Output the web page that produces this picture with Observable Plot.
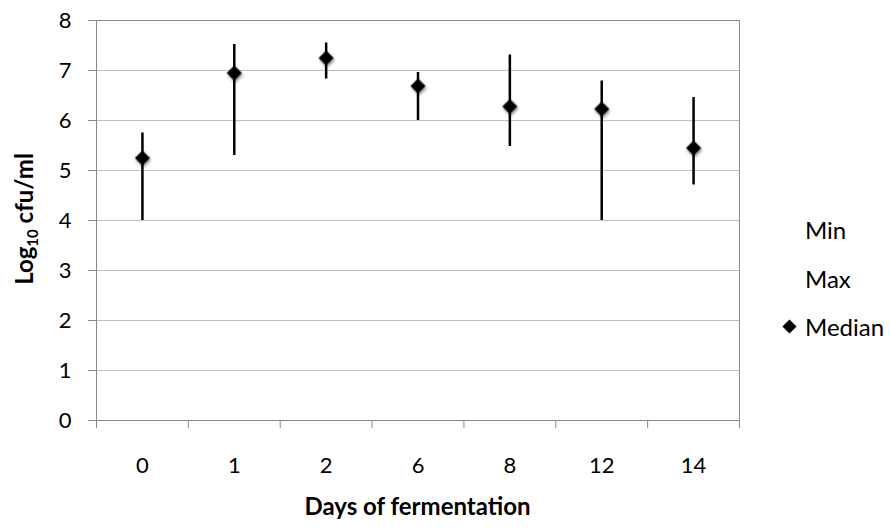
<!DOCTYPE html>
<html><head><meta charset="utf-8">
<script src="https://cdn.jsdelivr.net/npm/d3@7"></script>
<script src="https://cdn.jsdelivr.net/npm/@observablehq/plot@0.6"></script>
<style>
body{margin:0;background:#fff;}
#wrap{position:relative;width:890px;height:531px;font-family:Lato,sans-serif;}
#wrap svg g[aria-label="dot"]{filter:drop-shadow(1px 2px 1.5px rgba(0,0,0,0.45));}
</style></head><body><div id="wrap"></div>
<script>
const days = ["0","1","2","6","8","12","14"];
const minVals = [4.0, 5.3, 6.83, 6.0, 5.48, 4.0, 4.71];
const maxVals = [5.75, 7.52, 7.55, 6.96, 7.31, 6.79, 6.46];
const medianVals = [5.25, 6.95, 7.25, 6.69, 6.28, 6.23, 5.45];
const yTicks = [0,1,2,3,4,5,6,7,8];
const legendLabels = ["Min","Max","Median"];

const data = days.map((d,i)=>({day:d, idx:i+0.5, min:minVals[i], max:maxVals[i], median:medianVals[i]}));
const boundaries = d3.range(days.length+1);

const W = 890, H = 531, mL = 96, mR = 151, mT = 20, mB = 111;

const plot = Plot.plot({
  width: W, height: H,
  marginLeft: mL, marginRight: mR, marginTop: mT, marginBottom: mB,
  x: {domain:[0, days.length]},
  y: {domain:[0, 8]},
  style: {fontFamily:"Lato, sans-serif", fontSize:"22px", color:"#000", background:"#fff"},
  marks: [
    Plot.gridY(yTicks.slice(1, -1), {stroke:"#bfbfbf", strokeOpacity:1, strokeWidth:1}),
    Plot.frame({stroke:"#878787", strokeWidth:1}),
    Plot.axisY(yTicks, {tickSize:8, tickPadding:17, stroke:"#878787", label:null, tickFormat:d=>String(d)}),
    Plot.axisX(boundaries, {tickSize:8, tickFormat:()=>"", stroke:"#878787", label:null}),
    Plot.axisX(data.map(d=>d.idx), {tickSize:0, tickPadding:37, label:null, tickFormat:d=>days[Math.floor(d)]}),
    Plot.ruleX(data, {x:"idx", y1:"min", y2:"max", stroke:"#000", strokeWidth:2.5}),
    Plot.dot(data, {x:"idx", y:"median", symbol:"square", r:6, rotate:45, fill:"#000", stroke:"none"})
  ]
});
document.getElementById("wrap").appendChild(plot);

const svg = d3.select(plot);
// Y title with subscript
const yt = svg.append("text")
  .attr("transform", `translate(33,${mT + (H - mT - mB)/2 - 1}) rotate(-90)`)
  .attr("text-anchor","middle").attr("font-weight","bold").attr("font-size","24px").attr("fill","#000");
yt.append("tspan").text("Log");
yt.append("tspan").attr("font-size","15px").attr("dy",5).text("10");
yt.append("tspan").attr("dy",-5).text(" cfu/ml");
// X title
svg.append("text")
  .attr("x", mL + (W - mL - mR)/2).attr("y", 515)
  .attr("text-anchor","middle").attr("font-weight","bold").attr("font-size","24px").attr("fill","#000")
  .text("Days of fermentation");
// Legend
const lg = svg.append("g").attr("font-size","24px").attr("fill","#000").attr("text-anchor","start");
legendLabels.forEach((lab,i)=>{
  lg.append("text").attr("x",805).attr("y",239 + i*48.5).attr("text-anchor","start").text(lab);
});
lg.append("path").attr("d", d3.symbol(d3.symbolSquare, 100)())
  .attr("transform","translate(789.5,326.5) rotate(45)").attr("fill","#000");
</script></body></html>
